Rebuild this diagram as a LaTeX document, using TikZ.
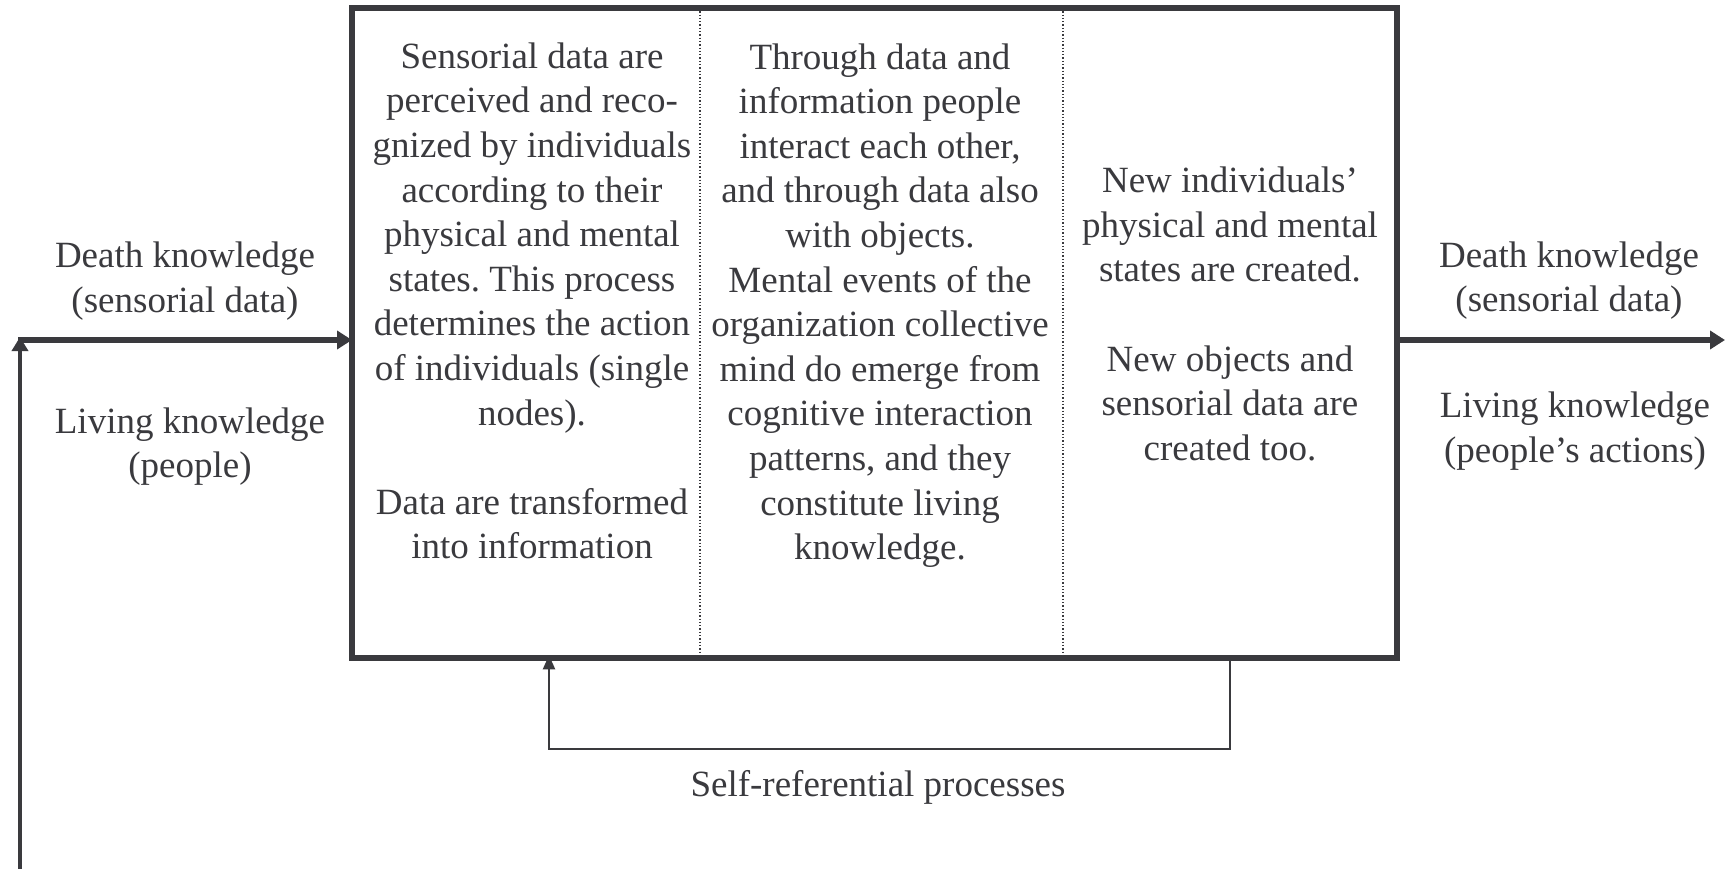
\documentclass[tikz,border=0pt]{standalone}
\usepackage{fontspec}
\setmainfont{Liberation Serif}
\usetikzlibrary{arrows.meta}
\definecolor{ink}{RGB}{58,58,62}
\frenchspacing
\begin{document}
\begin{tikzpicture}[x=1pt,y=-1pt,
  txt/.style={text=ink, align=center, inner sep=0pt, font=\fontsize{37}{44.6}\selectfont},
  mainarrow/.style={draw=ink, line width=6pt, -{Triangle[length=15pt,width=18pt]}},
  uparrow/.style={draw=ink, line width=3.5pt, -{Triangle[length=14pt,width=16pt]}},
  looparrow/.style={draw=ink, line width=2pt, -{Triangle[length=14pt,width=12pt]}},
  divider/.style={draw=ink, line width=1.3pt, dotted},
  frame/.style={draw=ink, line width=5.5pt, inner sep=0pt, outer sep=0pt}]
\useasboundingbox (0,0) rectangle (1725,869);
\fill[white] (0,0) rectangle (1725,869);

\node[frame, minimum width=1045pt, minimum height=650pt] (box) at (874.5,333) {};

\coordinate (d1) at (700,0);
\coordinate (d2) at (1063,0);
\draw[divider] (box.north -| d1) -- (box.south -| d1);
\draw[divider] (box.north -| d2) -- (box.south -| d2);

\node[txt] (c1) at (532,301) {Sensorial data are\\perceived and reco-\\gnized by individuals\\according to their\\physical and mental\\states. This process\\determines the action\\of individuals (single\\nodes).\\[44.6pt]Data are transformed\\into information};
\node[txt] (c2) at (880,305.5) {Through data and\\information people\\interact each other,\\and through data also\\with objects.\\Mental events of the\\organization collective\\mind do emerge from\\cognitive interaction\\patterns, and they\\constitute living\\knowledge.};
\node[txt] (c3) at (1230,314) {New individuals’\\physical and mental\\states are created.\\[44.6pt]New objects and\\sensorial data are\\created too.};

\node[txt] (ldk) at (185,281) {Death knowledge\\(sensorial data)};
\node[txt] (llk) at (190,446.5) {Living knowledge\\(people)};
\node[txt] (rdk) at (1569,280.5) {Death knowledge\\(sensorial data)};
\node[txt] (rlk) at (1575,431) {Living knowledge\\(people’s actions)};
\node[txt] (self) at (878,787.5) {Self-referential processes};

\coordinate (corner) at (20,340);
\coordinate (bot) at (20,869);
\coordinate (out) at (1725,340);
\draw[uparrow] (bot) -- ([yshift=3pt]corner);
\draw[mainarrow] ([xshift=-1.75pt]corner) -- (corner -| box.west);
\draw[mainarrow] (box.east |- out) -- (out);

\coordinate (lr) at (1230,749);
\coordinate (ll) at (549,749);
\draw[looparrow] (box.south -| lr) -- (lr) -- (ll) -- ([yshift=2.75pt]box.south -| ll);
\end{tikzpicture}
\end{document}
